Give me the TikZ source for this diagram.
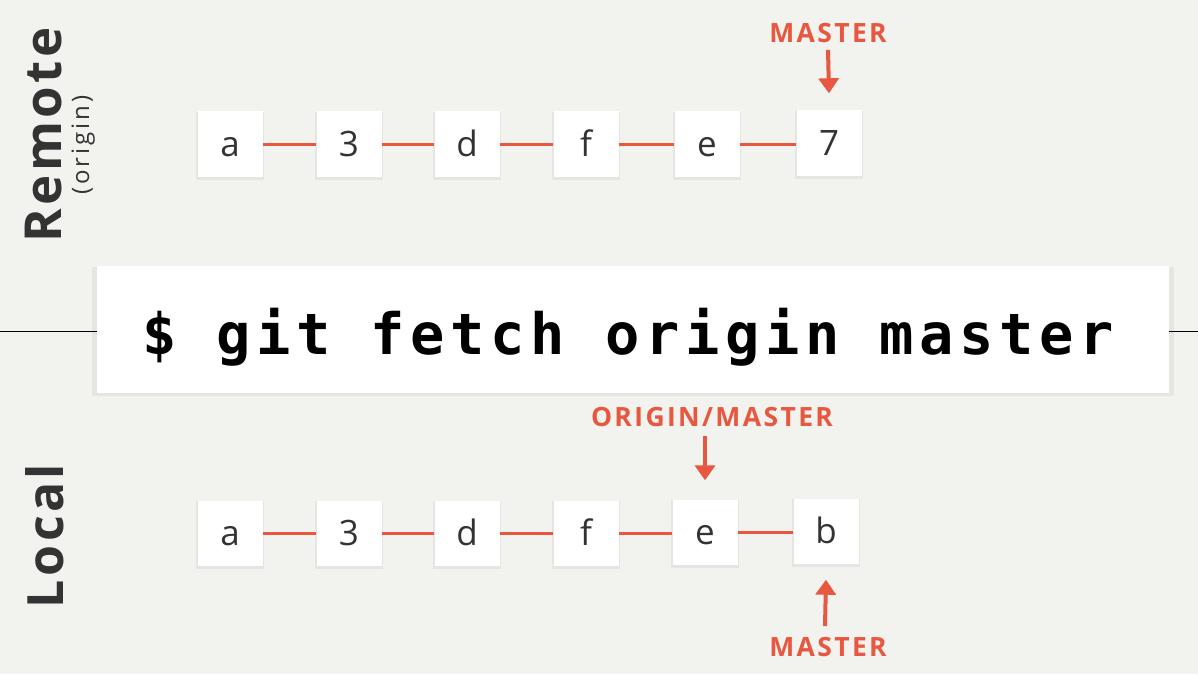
\documentclass[tikz,border=0pt]{standalone}
\usepackage{fontspec}
\setmainfont{Open Sans}
\newfontfamily\tagfont[LetterSpace=9]{Open Sans}
\newfontfamily\sidefont[LetterSpace=7]{Open Sans}
\newfontfamily\subfont[LetterSpace=12]{Open Sans}
\newfontfamily\cmdfont[LetterSpace=10]{DejaVu Sans Mono}
\usetikzlibrary{arrows.meta,shadows,calc}

\definecolor{paper}{HTML}{F2F2EE}
\definecolor{ink}{HTML}{333333}
\definecolor{accent}{HTML}{E8573F}

\tikzset{
  commit/.style={fill=white, minimum width=65pt, minimum height=65pt, inner sep=0pt,
    text=ink, font=\fontsize{35}{40}\selectfont, text height=25pt, text depth=0pt,
    general shadow={shadow xshift=0pt, shadow yshift=-2pt, shadow scale=1.04, fill=black, opacity=0.05}},
  link/.style={draw=accent, line width=3pt},
  reftag/.style={text=accent, inner sep=0pt, font=\tagfont\bfseries\fontsize{26.5}{30}\selectfont},
  pointer/.style={draw=accent, line width=4pt, -{Triangle[width=20pt,length=15pt]}},
  cmdbox/.style={fill=white, inner sep=0pt,
    general shadow={shadow xshift=0pt, shadow yshift=-2pt, shadow scale=1.01, fill=black, opacity=0.05}},
  cmdtext/.style={inner sep=0pt, text=black, font=\cmdfont\bfseries\fontsize{57}{66}\selectfont},
  sidelabel/.style={rotate=90, anchor=base, inner sep=0pt, text=ink},
}

\begin{document}
\begin{tikzpicture}[x=1pt,y=-1pt]
  % canvas
  \fill[paper] (0,0) rectangle (1198,674);
  \useasboundingbox (0,0) rectangle (1198,674);

  % side titles
  \node[sidelabel, font=\sidefont\bfseries\fontsize{51}{60}\selectfont] (remote) at (61,135) {Remote};
  \node[sidelabel, font=\subfont\fontsize{24}{28}\selectfont] (origin) at (89,145) {(origin)};
  \node[sidelabel, font=\sidefont\bfseries\fontsize{50}{60}\selectfont] (local) at (63,536) {Local};

  % remote history
  \node[commit] (r1) at (230,144) {a};
  \node[commit] (r2) at (349,144) {3};
  \node[commit] (r3) at (467,144) {d};
  \node[commit] (r4) at (586,144) {f};
  \node[commit] (r5) at (707,144) {e};
  \node[commit] (r6) at (829,143) {7};
  \foreach \p/\q in {r1/r2,r2/r3,r3/r4,r4/r5,r5/r6}
    \draw[link] (\p.east) -- (\q.west |- \p.east);

  % local history
  \node[commit] (l1) at (230,533) {a};
  \node[commit] (l2) at (349,533) {3};
  \node[commit] (l3) at (467,533) {d};
  \node[commit] (l4) at (586,533) {f};
  \node[commit] (l5) at (705,532) {e};
  \node[commit] (l6) at (826,531) {b};
  \foreach \p/\q in {l1/l2,l2/l3,l3/l4,l4/l5,l5/l6}
    \draw[link] (\p.east) -- (\q.west |- \p.east);

  % command banner
  \coordinate (lend) at (0,331);
  \coordinate (rend) at (1198,331);
  \node[cmdbox, minimum width=1072pt, minimum height=127pt] (cmd) at (633,329.5) {};
  \draw[black, line width=1pt] (lend) -- (cmd.west |- lend);
  \draw[black, line width=1pt] (cmd.east |- rend) -- (rend);
  \node[cmdtext, anchor=base] (cmdtxt) at (628,354) {\$ git fetch origin master};

  % branch pointers
  \node[reftag] (rmaster) at (828,33) {MASTER};
  \draw[pointer] ($(rmaster.south)+(0,7)$) -- ($(r6.north)+(0,-17)$);

  \node[reftag] (omaster) at (712,417) {ORIGIN/MASTER};
  \draw[pointer] ($(l5.north)+(0,-63)$) -- ($(l5.north)+(0,-19)$);

  \node[reftag] (lmaster) at (828,647) {MASTER};
  \draw[pointer] ($(lmaster.north)+(-3,-11)$) -- ($(l6.south)+(0,16)$);
\end{tikzpicture}
\end{document}
